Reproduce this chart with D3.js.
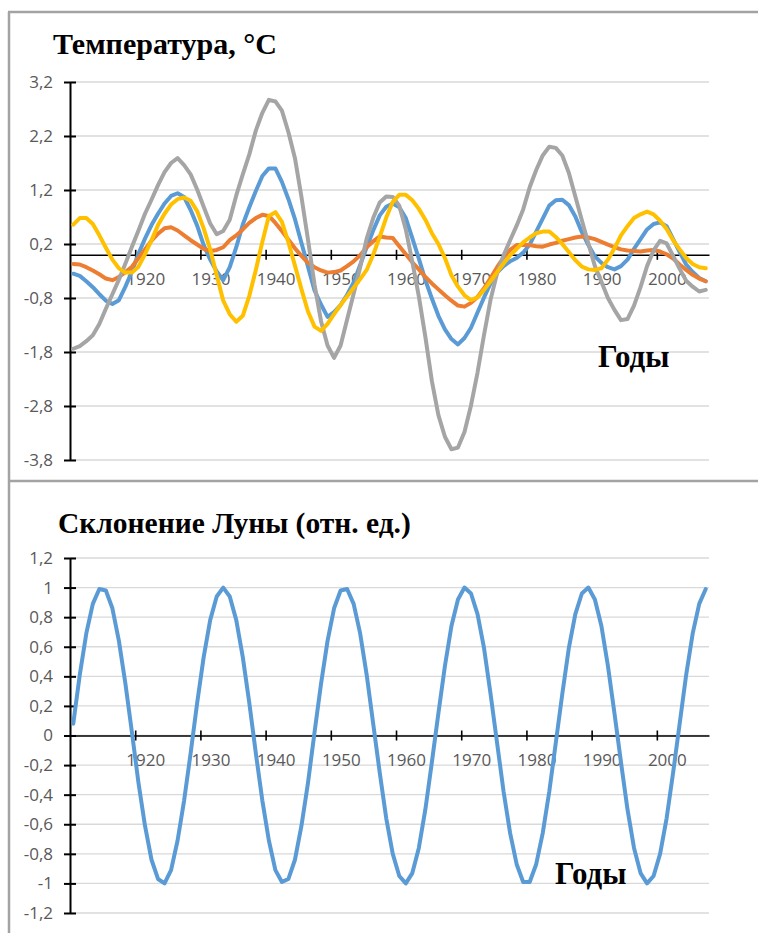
<!DOCTYPE html>
<html>
<head>
<meta charset="utf-8">
<script src="https://cdn.jsdelivr.net/npm/d3@7"></script>
<style>
  body { margin: 0; background: #fff; }
</style>
</head>
<body>
<div id="chart"></div>
<script>
// years (one point per year, Excel category axis)
const years = d3.range(1910, 2008);
const decades = [1920, 1930, 1940, 1950, 1960, 1970, 1980, 1990, 2000];

// temperature anomalies
const tBlue = [
  -0.35, -0.39, -0.49, -0.60, -0.73, -0.85, -0.91, -0.84, -0.59, -0.31,
  0.02, 0.30, 0.55, 0.76, 0.95, 1.09, 1.14, 1.07, 0.83, 0.54,
  0.18, -0.09, -0.31, -0.47, -0.23, 0.14, 0.56, 0.88, 1.18, 1.46,
  1.60, 1.60, 1.35, 1.03, 0.66, 0.22, -0.22, -0.66, -0.92, -1.15,
  -1.06, -0.93, -0.74, -0.51, -0.19, 0.14, 0.45, 0.73, 0.89, 0.95,
  0.88, 0.68, 0.31, -0.07, -0.47, -0.81, -1.13, -1.38, -1.56, -1.66,
  -1.54, -1.35, -1.07, -0.79, -0.53, -0.33, -0.21, -0.12, -0.06, 0.04,
  0.19, 0.43, 0.67, 0.91, 1.01, 1.02, 0.92, 0.71, 0.42, 0.18,
  -0.03, -0.15, -0.23, -0.27, -0.21, -0.09, 0.11, 0.29, 0.47, 0.57,
  0.60, 0.53, 0.29, 0.05, -0.18, -0.32, -0.43, -0.49
];
const tOrange = [
  -0.17, -0.18, -0.23, -0.29, -0.36, -0.44, -0.47, -0.41, -0.32, -0.22,
  -0.06, 0.10, 0.26, 0.39, 0.49, 0.51, 0.45, 0.36, 0.27, 0.19,
  0.11, 0.07, 0.09, 0.14, 0.27, 0.36, 0.47, 0.59, 0.68, 0.74,
  0.72, 0.59, 0.44, 0.28, 0.12, -0.02, -0.15, -0.23, -0.29, -0.33,
  -0.32, -0.29, -0.21, -0.12, -0.01, 0.14, 0.25, 0.34, 0.32, 0.31,
  0.16, 0.01, -0.14, -0.27, -0.41, -0.53, -0.64, -0.75, -0.85, -0.94,
  -0.96, -0.89, -0.78, -0.62, -0.43, -0.23, -0.05, 0.09, 0.18, 0.18,
  0.18, 0.16, 0.15, 0.19, 0.22, 0.26, 0.29, 0.32, 0.34, 0.32,
  0.29, 0.24, 0.19, 0.14, 0.10, 0.08, 0.07, 0.06, 0.08, 0.09,
  0.06, 0.01, -0.07, -0.18, -0.28, -0.37, -0.44, -0.49
];
const tGray = [
  -1.74, -1.69, -1.60, -1.49, -1.28, -1.00, -0.73, -0.46, -0.16, 0.15,
  0.45, 0.76, 1.02, 1.29, 1.53, 1.70, 1.79, 1.66, 1.49, 1.21,
  0.89, 0.58, 0.38, 0.44, 0.65, 1.10, 1.49, 1.86, 2.30, 2.63,
  2.87, 2.84, 2.67, 2.27, 1.79, 1.07, 0.28, -0.55, -1.23, -1.68,
  -1.91, -1.68, -1.20, -0.72, -0.23, 0.30, 0.68, 0.97, 1.08, 1.07,
  0.91, 0.47, -0.13, -0.77, -1.52, -2.34, -2.97, -3.37, -3.60, -3.57,
  -3.28, -2.79, -2.18, -1.48, -0.83, -0.34, -0.01, 0.27, 0.54, 0.84,
  1.25, 1.57, 1.84, 2.00, 1.98, 1.84, 1.52, 1.08, 0.64, 0.21,
  -0.21, -0.50, -0.80, -1.02, -1.21, -1.19, -0.94, -0.60, -0.21, 0.08,
  0.26, 0.21, -0.02, -0.26, -0.48, -0.59, -0.68, -0.65
];
const tYellow = [
  0.56, 0.68, 0.68, 0.57, 0.36, 0.13, -0.09, -0.25, -0.33, -0.33,
  -0.22, 0.01, 0.27, 0.55, 0.76, 0.93, 1.03, 1.06, 1.00, 0.81,
  0.49, 0.10, -0.38, -0.85, -1.10, -1.24, -1.13, -0.76, -0.28, 0.24,
  0.72, 0.79, 0.61, 0.23, -0.20, -0.64, -1.05, -1.33, -1.41, -1.28,
  -1.10, -0.93, -0.77, -0.61, -0.45, -0.28, 0.00, 0.33, 0.69, 0.98,
  1.11, 1.11, 1.01, 0.85, 0.65, 0.40, 0.20, -0.06, -0.38, -0.59,
  -0.75, -0.84, -0.79, -0.65, -0.49, -0.32, -0.16, -0.01, 0.11, 0.23,
  0.32, 0.40, 0.43, 0.43, 0.33, 0.20, 0.05, -0.10, -0.22, -0.27,
  -0.28, -0.25, -0.09, 0.12, 0.36, 0.53, 0.68, 0.75, 0.80, 0.75,
  0.63, 0.48, 0.27, 0.10, -0.06, -0.17, -0.23, -0.25
];

// moon declination, relative units
const moon = [
  0.08, 0.41, 0.69, 0.89, 0.99, 0.98, 0.86, 0.64, 0.35, 0.02,
  -0.32, -0.61, -0.84, -0.97, -1.00, -0.91, -0.71, -0.44, -0.12, 0.22,
  0.53, 0.78, 0.94, 1.00, 0.94, 0.78, 0.53, 0.22, -0.12, -0.44,
  -0.71, -0.91, -0.99, -0.97, -0.84, -0.61, -0.32, 0.02, 0.35, 0.64,
  0.86, 0.98, 0.99, 0.89, 0.69, 0.41, 0.08, -0.25, -0.56, -0.80,
  -0.95, -1.00, -0.93, -0.76, -0.50, -0.18, 0.15, 0.47, 0.74, 0.92,
  1.00, 0.96, 0.82, 0.59, 0.28, -0.05, -0.38, -0.66, -0.87, -0.99,
  -0.99, -0.87, -0.66, -0.38, -0.05, 0.28, 0.59, 0.82, 0.96, 1.00,
  0.92, 0.74, 0.47, 0.15, -0.18, -0.50, -0.76, -0.93, -1.00, -0.95,
  -0.80, -0.56, -0.25, 0.08, 0.41, 0.69, 0.89, 0.99
];

// tick values
const topTicks = [3.2, 2.2, 1.2, 0.2, -0.8, -1.8, -2.8, -3.8];
const botTicks = [1.2, 1, 0.8, 0.6, 0.4, 0.2, 0, -0.2, -0.4, -0.6, -0.8, -1, -1.2];

const W = 758, H = 933;
const serif = "'Liberation Serif', 'Times New Roman', serif";
const sans = "'Open Sans', sans-serif";

const svg = d3.select('#chart').append('svg')
    .attr('width', W)
    .attr('height', H);

svg.append('rect').attr('width', W).attr('height', H).attr('fill', '#fff');

// outer frame
const frame = svg.append('g').attr('stroke', '#a3a3a3').attr('stroke-width', 2.5);
frame.append('line').attr('x1', 8).attr('x2', W).attr('y1', 12).attr('y2', 12);
frame.append('line').attr('x1', 9).attr('x2', 9).attr('y1', 12).attr('y2', H);
frame.append('line').attr('x1', 8).attr('x2', W).attr('y1', 481).attr('y2', 481);

// shared x scale: category axis, points at the middle of each year
const x = d3.scaleLinear().domain([1910, 2008]).range([70, 709]);

const ru = d3.formatLocale({decimal: ',', thousands: ' ', grouping: [3], currency: ['', ''], minus: '-'});
const fmt = ru.format('~g');

function drawPanel(y, ticks, series) {
    let g = svg.append('g');

    // gridlines
    g.selectAll('line.grid')
        .data(ticks)
        .join('line')
        .attr('class', 'grid')
        .attr('x1', x.range()[0])
        .attr('x2', x.range()[1])
        .attr('y1', d => y(d))
        .attr('y2', d => y(d))
        .attr('stroke', '#d9d9d9')
        .attr('stroke-width', 1.3);

    // y axis
    let ya = g.append('g')
        .attr('transform', `translate(${x.range()[0]},0)`)
        .call(d3.axisLeft(y).tickValues(ticks).tickFormat(fmt).tickSizeOuter(0))
        .attr('font-family', sans)
        .attr('font-size', 17);
    ya.select('.domain').attr('stroke', '#000').attr('stroke-width', 2);
    ya.selectAll('.tick line').attr('x1', 6).attr('x2', -6).attr('stroke', '#000').attr('stroke-width', 2);
    ya.selectAll('.tick text').attr('x', -17).attr('fill', '#595959');

    // x axis along zero
    let xa = g.append('g')
        .attr('transform', `translate(0,${y(0)})`)
        .call(d3.axisBottom(x).tickValues(decades).tickFormat(d3.format('d')).tickSizeOuter(0))
        .attr('font-family', sans)
        .attr('font-size', 17);
    xa.select('.domain').attr('stroke', '#000').attr('stroke-width', 1.6);
    xa.selectAll('.tick line').attr('y1', -5).attr('y2', 5).attr('stroke', '#000').attr('stroke-width', 1.6);
    xa.selectAll('.tick text').attr('x', 10).attr('y', 30).attr('dy', null).attr('fill', '#595959');

    // series lines
    let line = d3.line()
        .x((d, i) => x(years[i] + 0.5))
        .y(d => y(d));

    series.forEach(s => {
        g.append('path')
            .datum(s.values)
            .attr('d', line)
            .attr('fill', 'none')
            .attr('stroke', s.color)
            .attr('stroke-width', 4)
            .attr('stroke-linejoin', 'round')
            .attr('stroke-linecap', 'round');
    });
    return g;
}

// top chart: temperature
const yTop = d3.scaleLinear().domain([-3.8, 3.2]).range([460, 82]);
drawPanel(yTop, topTicks, [
    {values: tBlue, color: '#5b9bd5'},
    {values: tOrange, color: '#ed7d31'},
    {values: tGray, color: '#a5a5a5'},
    {values: tYellow, color: '#ffc000'}
]);

// bottom chart: moon declination
const yBot = d3.scaleLinear().domain([-1.2, 1.2]).range([913, 558]);
drawPanel(yBot, botTicks, [
    {values: moon, color: '#5b9bd5'}
]);

// titles and labels
function label(txt, xx, yy, size) {
    svg.append('text')
        .attr('x', xx)
        .attr('y', yy)
        .attr('font-family', serif)
        .attr('font-weight', 'bold')
        .attr('font-size', size)
        .attr('fill', '#000')
        .text(txt);
}
label('Температура, °С', 53, 54, 30);
label('Годы', 598, 367, 31);
label('Склонение Луны (отн. ед.)', 58, 533, 29.5);
label('Годы', 555, 884, 31);
</script>
</body>
</html>
